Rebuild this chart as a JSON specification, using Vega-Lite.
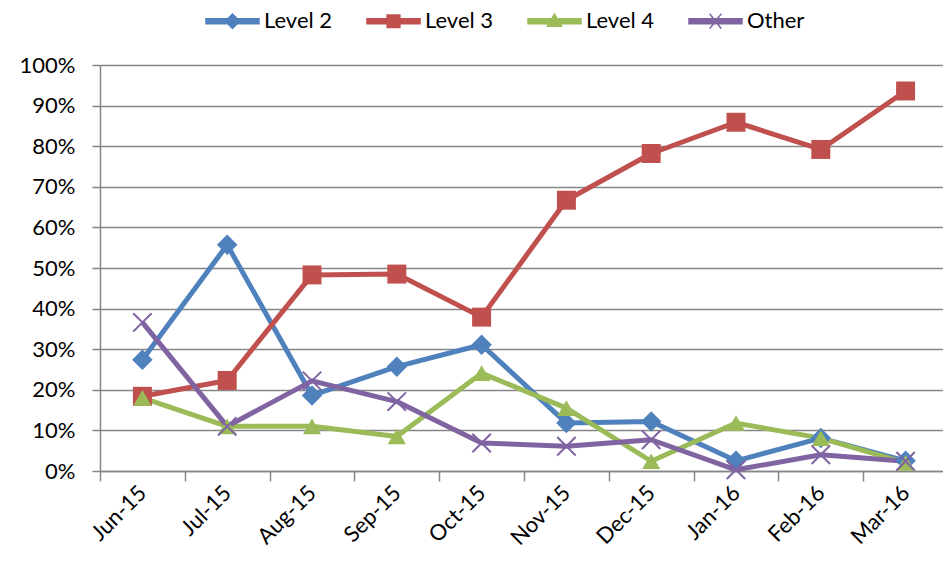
{
  "$schema": "https://vega.github.io/schema/vega-lite/v6.json",
  "autosize": {"type": "none"},
  "width": 848,
  "height": 406,
  "padding": {"left": 100, "top": 65, "right": 0, "bottom": 92},
  "background": "white",
  "config": {
    "font": "Lato",
    "view": {"stroke": null},
    "axis": {
      "labelFont": "Lato",
      "labelFontSize": 22,
      "labelColor": "#000000",
      "domainColor": "#868686",
      "domainWidth": 1.5,
      "tickColor": "#868686",
      "tickWidth": 1.5,
      "gridColor": "#868686",
      "gridWidth": 1.3,
      "title": null
    }
  },
  "data": {
    "values": [
      {"month": "Jun-15", "series": "Level 2", "value": 0.274},
      {"month": "Jul-15", "series": "Level 2", "value": 0.557},
      {"month": "Aug-15", "series": "Level 2", "value": 0.186},
      {"month": "Sep-15", "series": "Level 2", "value": 0.257},
      {"month": "Oct-15", "series": "Level 2", "value": 0.311},
      {"month": "Nov-15", "series": "Level 2", "value": 0.118},
      {"month": "Dec-15", "series": "Level 2", "value": 0.122},
      {"month": "Jan-16", "series": "Level 2", "value": 0.025},
      {"month": "Feb-16", "series": "Level 2", "value": 0.081},
      {"month": "Mar-16", "series": "Level 2", "value": 0.025},
      {"month": "Jun-15", "series": "Level 3", "value": 0.184},
      {"month": "Jul-15", "series": "Level 3", "value": 0.223},
      {"month": "Aug-15", "series": "Level 3", "value": 0.483},
      {"month": "Sep-15", "series": "Level 3", "value": 0.485},
      {"month": "Oct-15", "series": "Level 3", "value": 0.379},
      {"month": "Nov-15", "series": "Level 3", "value": 0.667},
      {"month": "Dec-15", "series": "Level 3", "value": 0.782},
      {"month": "Jan-16", "series": "Level 3", "value": 0.859},
      {"month": "Feb-16", "series": "Level 3", "value": 0.792},
      {"month": "Mar-16", "series": "Level 3", "value": 0.936},
      {"month": "Jun-15", "series": "Level 4", "value": 0.18},
      {"month": "Jul-15", "series": "Level 4", "value": 0.11},
      {"month": "Aug-15", "series": "Level 4", "value": 0.11},
      {"month": "Sep-15", "series": "Level 4", "value": 0.085},
      {"month": "Oct-15", "series": "Level 4", "value": 0.241},
      {"month": "Nov-15", "series": "Level 4", "value": 0.155},
      {"month": "Dec-15", "series": "Level 4", "value": 0.024},
      {"month": "Jan-16", "series": "Level 4", "value": 0.118},
      {"month": "Feb-16", "series": "Level 4", "value": 0.081},
      {"month": "Mar-16", "series": "Level 4", "value": 0.02},
      {"month": "Jun-15", "series": "Other", "value": 0.366},
      {"month": "Jul-15", "series": "Other", "value": 0.11},
      {"month": "Aug-15", "series": "Other", "value": 0.222},
      {"month": "Sep-15", "series": "Other", "value": 0.171},
      {"month": "Oct-15", "series": "Other", "value": 0.069},
      {"month": "Nov-15", "series": "Other", "value": 0.061},
      {"month": "Dec-15", "series": "Other", "value": 0.077},
      {"month": "Jan-16", "series": "Other", "value": 0.003},
      {"month": "Feb-16", "series": "Other", "value": 0.04},
      {"month": "Mar-16", "series": "Other", "value": 0.024}
    ]
  },
  "encoding": {
    "x": {
      "field": "month",
      "type": "ordinal",
      "bandPosition": 0.5,
      "scale": {
        "type": "band",
        "paddingInner": 0,
        "paddingOuter": 0,
        "domain": ["Jun-15", "Jul-15", "Aug-15", "Sep-15", "Oct-15", "Nov-15", "Dec-15", "Jan-16", "Feb-16", "Mar-16"]
      },
      "axis": {
        "tickBand": "extent",
        "tickSize": 10,
        "labelAngle": -45,
        "labelAlign": "right",
        "labelBaseline": "middle",
        "labelPadding": 8,
        "grid": false
      }
    },
    "y": {
      "field": "value",
      "type": "quantitative",
      "scale": {"domain": [0, 1], "nice": false},
      "axis": {
        "values": [0, 0.1, 0.2, 0.3, 0.4, 0.5, 0.6, 0.7, 0.8, 0.9, 1],
        "format": ".0%",
        "grid": true,
        "tickSize": 8,
        "labelPadding": 17
      }
    }
  },
  "layer": [
    {
      "mark": {"type": "line", "strokeWidth": 5, "strokeJoin": "round"},
      "encoding": {
        "color": {
          "field": "series",
          "type": "nominal",
          "scale": {
            "domain": ["Level 2", "Level 3", "Level 4", "Other"],
            "range": ["#4F81BD", "#C0504D", "#9BBB59", "#8064A2"]
          },
          "legend": {
            "title": null,
            "orient": "none",
            "direction": "horizontal",
            "legendX": 105,
            "legendY": -71.5,
            "padding": 0,
            "symbolSize": 2809,
            "labelFont": "Lato",
            "labelFontSize": 22,
            "labelColor": "#000000",
            "labelOffset": 4,
            "columnPadding": 31,
            "gridAlign": "all",
            "encode": {
              "symbols": {
                "update": {
                  "shape": {
                    "signal": "datum.value === 'Level 2' ? 'M-1,-0.095H1V0.095H-1Z M0,-0.27L0.27,0L0,0.27L-0.27,0Z' : datum.value === 'Level 3' ? 'M-1,-0.095H1V0.095H-1Z M-0.24,-0.24H0.24V0.24H-0.24Z' : datum.value === 'Level 4' ? 'M-1,-0.095H1V0.095H-1Z M0,-0.27L0.27,0.19H-0.27Z' : 'M-1,-0.095H1V0.095H-1Z M-0.22,-0.28L0.22,0.28M-0.22,0.28L0.22,-0.28'"
                  },
                  "fill": {"scale": "color", "field": "value"},
                  "stroke": {"scale": "color", "field": "value"},
                  "strokeWidth": {"value": 1.5},
                  "opacity": {"value": 1}
                }
              }
            }
          }
        }
      }
    },
    {
      "transform": [{"filter": "datum.series === 'Level 2'"}],
      "mark": {"type": "point", "shape": "diamond", "filled": true, "opacity": 1, "size": 420, "color": "#4F81BD"}
    },
    {
      "transform": [{"filter": "datum.series === 'Level 3'"}],
      "mark": {"type": "point", "shape": "square", "filled": true, "opacity": 1, "size": 360, "color": "#C0504D"}
    },
    {
      "transform": [{"filter": "datum.series === 'Level 4'"}],
      "mark": {"type": "point", "shape": "triangle-up", "filled": true, "opacity": 1, "size": 330, "color": "#9BBB59"}
    },
    {
      "transform": [{"filter": "datum.series === 'Other'"}],
      "mark": {"type": "point", "shape": "M-1,-1L1,1M-1,1L1,-1", "filled": false, "opacity": 1, "size": 340, "strokeWidth": 2, "color": "#8064A2"}
    }
  ]
}
